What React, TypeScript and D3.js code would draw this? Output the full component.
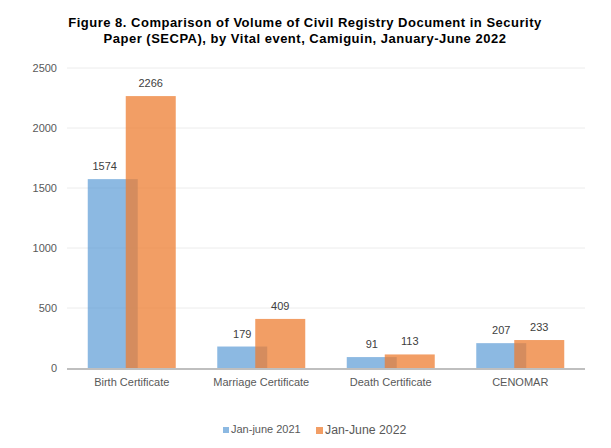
import React from "react";
import * as d3 from "d3";

const categories = ["Birth Certificate", "Marriage Certificate", "Death Certificate", "CENOMAR"];
const series2021 = [1574, 179, 91, 207];
const series2022 = [2266, 409, 113, 233];
const yTicks = [0, 500, 1000, 1500, 2000, 2500];
const seriesNames = ["Jan-june 2021", "Jan-June 2022"];
const titleLines = [
  "Figure 8. Comparison of Volume of Civil Registry Document in Security",
  "Paper (SECPA), by Vital event, Camiguin, January-June 2022",
];

export default function App() {
  const W = 611, H = 448;
  const left = 67, right = 585, top = 68, bottom = 368;
  const x = d3.scaleBand<string>().domain(categories).range([left, right]);
  const y = d3.scaleLinear().domain([0, 2500]).range([bottom, top]);
  const barW = 50;
  const overlap = 12;
  const font = "'Liberation Sans', Arial, sans-serif";
  return (
    <svg width={W} height={H} style={{ position: "absolute", left: 0, top: 0, background: "#fff" }}>
      {titleLines.map((t, i) => (
        <text key={i} x={305} y={27 + i * 15.5} textAnchor="middle" fontFamily={font} fontWeight="bold" fontSize={13} letterSpacing={0.5} fill="#000">{t}</text>
      ))}
      {yTicks.map((t) => (
        <g key={t}>
          {t > 0 && <line x1={left} x2={right} y1={y(t)} y2={y(t)} stroke="#ececec" strokeWidth={1} />}
          <text x={57} y={y(t) + 4} textAnchor="end" fontFamily={font} fontSize={11} fill="#595959">{t}</text>
        </g>
      ))}
      {categories.map((c, i) => {
        const cx = (x(c) as number) + x.bandwidth() / 2;
        const groupW = barW * 2 - overlap;
        const bx = cx - groupW / 2;
        const ox = bx + barW - overlap;
        const dx = i === 0 ? -8 : 0;
        return (
          <g key={c}>
            <rect x={bx} y={y(series2021[i])} width={barW} height={bottom - y(series2021[i])} fill="#5B9BD5" fillOpacity={0.7} />
            <rect x={ox} y={y(series2022[i])} width={barW} height={bottom - y(series2022[i])} fill="#ED7D31" fillOpacity={0.75} />
            <text x={bx + barW / 2 + dx} y={y(series2021[i]) - 9} textAnchor="middle" fontFamily={font} fontSize={11} fill="#404040">{series2021[i]}</text>
            <text x={ox + barW / 2} y={y(series2022[i]) - 9} textAnchor="middle" fontFamily={font} fontSize={11} fill="#404040">{series2022[i]}</text>
            <text x={cx} y={386} textAnchor="middle" fontFamily={font} fontSize={11} fill="#595959">{c}</text>
          </g>
        );
      })}
      <line x1={left} x2={right} y1={bottom + 1} y2={bottom + 1} stroke="#bfbfbf" strokeWidth={2} />
      <rect x={223} y={427} width={6} height={6} fill="#5B9BD5" fillOpacity={0.7} />
      <text x={231} y={433} fontFamily={font} fontSize={11} fill="#595959">{seriesNames[0]}</text>
      <rect x={316} y={427} width={7} height={7} fill="#ED7D31" fillOpacity={0.75} />
      <text x={325} y={434} fontFamily={font} fontSize={12.3} fill="#595959">{seriesNames[1]}</text>
    </svg>
  );
}
